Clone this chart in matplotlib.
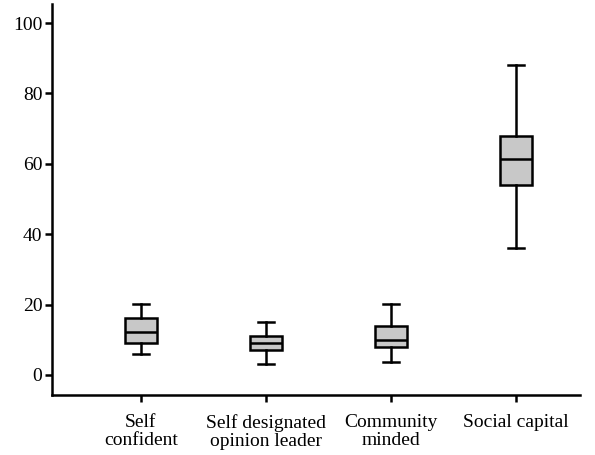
import matplotlib
matplotlib.use("Agg")
import matplotlib.pyplot as plt

categories = ["Self\nconfident", "Self designated\nopinion leader", "Community\nminded", "Social capital"]
whislo = [5.9, 3.1, 3.8, 36.0]
q1 = [9.0, 7.0, 7.9, 54.0]
med = [12.3, 9.1, 9.9, 61.3]
q3 = [16.1, 11.2, 14.0, 67.9]
whishi = [20.1, 15.0, 20.2, 88.0]
yticks = [0, 20, 40, 60, 80, 100]

plt.rcParams['font.family'] = ['Liberation Serif', 'DejaVu Serif']

fig = plt.figure(figsize=(5.95, 4.55), dpi=100)
ax = fig.add_axes([52/595, 1-395/455, (580-52)/595, (395-4)/455])

stats = []
for i in range(len(categories)):
    stats.append(dict(whislo=whislo[i], q1=q1[i], med=med[i], q3=q3[i], whishi=whishi[i], fliers=[]))

lw = 1.8
ax.bxp(stats, positions=[1, 2, 3, 4], widths=0.26, patch_artist=True, showfliers=False,
       boxprops=dict(facecolor='#c8c8c8', edgecolor='black', linewidth=lw),
       medianprops=dict(color='black', linewidth=lw),
       whiskerprops=dict(color='black', linewidth=lw),
       capprops=dict(color='black', linewidth=lw),
       capwidths=0.13)

ax.set_xlim(0.29, 4.51)
ax.set_ylim(-5.7, 105.4)
ax.set_yticks(yticks)
ax.set_xticks([1, 2, 3, 4])
ax.set_xticklabels(categories, fontsize=14, linespacing=1.05)
ax.tick_params(axis='y', labelsize=14, length=5, width=1.8, pad=2)
ax.tick_params(axis='x', length=5, width=1.8, pad=9)
for s in ['top', 'right']:
    ax.spines[s].set_visible(False)
for s in ['left', 'bottom']:
    ax.spines[s].set_linewidth(1.8)

fig.savefig("out.png", dpi=100)
